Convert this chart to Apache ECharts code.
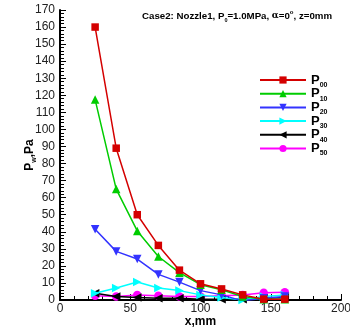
<!DOCTYPE html>
<html><head><meta charset="utf-8">
<script src="https://cdn.jsdelivr.net/npm/echarts@6/dist/echarts.min.js"></script>
<style>html,body{margin:0;padding:0;background:#fff}#c{width:350px;height:328px}</style>
</head><body><div id="c"></div>
<script>
var xValues = [25, 40, 55, 70, 85, 100, 115, 130, 145, 160];
var P00 = [160, 89, 50, 32, 17.5, 9.5, 6.5, 3, 0.5, 0.5];
var P10 = [117.5, 65, 40.5, 25.5, 16, 9, 6, 2, 0.5, 0.5];
var P20 = [41.5, 28.5, 24, 15, 10.5, 5.5, 3, -0.5, 1, 2];
var P30 = [4, 7, 10.5, 7, 5.5, 3, 1.5, 0, 2, 3];
var P40 = [4, 2, 1.5, 1, 1, 0.5, 0.5, 0.5, 1, 1.5];
var P50 = [2.5, 2, 3, 2.5, 2, 2, 2.5, 3, 4.3, 4.5];
var seriesNames = ['P00', 'P10', 'P20', 'P30', 'P40', 'P50'];
var seriesColors = ['#d40000', '#00cc00', '#3333ff', '#00ffff', '#000000', '#ff00ff'];
var xTicks = [0, 50, 100, 150, 200];
var yTicks = [0, 170, 10];

var font = '"Liberation Sans", Arial, sans-serif';
function pairs(v){ return xValues.map(function(x,i){ return [x, v[i]]; }); }
var all = [P00, P10, P20, P30, P40, P50];
var symbols = ['rect', 'triangle', 'triangle', 'triangle', 'triangle', 'circle'];
var rotates = [0, 0, 180, -90, 90, 0];
var sizes = [7.5, 8.5, 8.5, 8.5, 8.5, 8.5];

var series = all.map(function(v, i){
  return {
    name: seriesNames[i], type: 'line', data: pairs(v),
    symbol: symbols[i], symbolRotate: rotates[i], symbolSize: sizes[i],
    itemStyle: {color: seriesColors[i]},
    lineStyle: {color: seriesColors[i], width: 1.5},
    z: 10 - i
  };
});

var legendRich = {
  p: {fontFamily: font, fontWeight: 'bold', fontSize: 13, color: '#000', lineHeight: 17, verticalAlign: 'middle'},
  s: {fontFamily: font, fontWeight: 'bold', fontSize: 7, color: '#000', lineHeight: 8, verticalAlign: 'bottom'}
};
var legends = seriesNames.map(function(n, i){
  return {
    orient: 'vertical', left: 254, top: 68.5 + i * 13.7,
    itemWidth: 46, itemHeight: 9, itemGap: 0,
    data: [n],
    formatter: function(name){ return '{p|P}{s|' + name.substring(1) + '}'; },
    textStyle: {rich: legendRich}
  };
});

var chart = echarts.init(document.getElementById('c'), null, {renderer: 'canvas'});
chart.setOption({
  animation: false,
  backgroundColor: '#fff',
  title: {
    left: 137, top: 4,
    text: '{b|Case2: Nozzle1, P}{s|0}{b|=1.0MPa, }{g|α}{b|=0}{u|o}{b|, z=0mm}',
    textStyle: {
      rich: {
        b: {fontFamily: font, fontWeight: 'bold', fontSize: 9.7, color: '#000', lineHeight: 14, verticalAlign: 'middle'},
        s: {fontFamily: font, fontWeight: 'bold', fontSize: 5.5, color: '#000', lineHeight: 14, verticalAlign: 'bottom'},
        g: {fontFamily: 'DejaVu Serif, serif', fontSize: 9, color: '#000', lineHeight: 14, verticalAlign: 'middle'},
        u: {fontFamily: font, fontSize: 6, color: '#000', lineHeight: 14, verticalAlign: 'top'}
      }
    }
  },
  legend: legends,
  grid: {left: 60, right: 9, top: 10, bottom: 28, containLabel: false, outerBoundsMode: 'none'},
  xAxis: {
    type: 'value', min: xTicks[0], max: xTicks[xTicks.length - 1], interval: xTicks[1] - xTicks[0],
    name: 'x,mm', nameLocation: 'middle', nameGap: 16, nameMoveOverlap: false,
    nameTextStyle: {fontFamily: font, fontWeight: 'bold', fontSize: 12, color: '#000'},
    axisLine: {show: true, lineStyle: {color: '#000', width: 2}},
    axisTick: {show: true, inside: true, length: 6, lineStyle: {color: '#000', width: 1}},
    minorTick: {show: true, splitNumber: 5, length: 4, lineStyle: {color: '#000', width: 1}},
    splitLine: {show: false},
    axisLabel: {fontFamily: font, fontSize: 12, color: '#222', margin: 3}
  },
  yAxis: {
    type: 'value', min: yTicks[0], max: yTicks[1], interval: yTicks[2],
    name: '{p|P}{s|w}{p|,Pa}', nameLocation: 'middle', nameGap: 22, nameRotate: 90, nameMoveOverlap: false,
    nameTextStyle: {
      rich: {
        p: {fontFamily: font, fontWeight: 'bold', fontSize: 12, color: '#000', lineHeight: 16, verticalAlign: 'middle'},
        s: {fontFamily: font, fontWeight: 'bold', fontSize: 7, color: '#000', lineHeight: 7, verticalAlign: 'bottom'}
      }
    },
    axisLine: {show: true, lineStyle: {color: '#000', width: 2}},
    axisTick: {show: true, inside: true, length: 6, lineStyle: {color: '#000', width: 1}},
    minorTick: {show: true, splitNumber: 5, length: 4, lineStyle: {color: '#000', width: 1}},
    splitLine: {show: false},
    axisLabel: {fontFamily: font, fontSize: 12, color: '#222', margin: 5}
  },
  series: series
});
</script></body></html>
